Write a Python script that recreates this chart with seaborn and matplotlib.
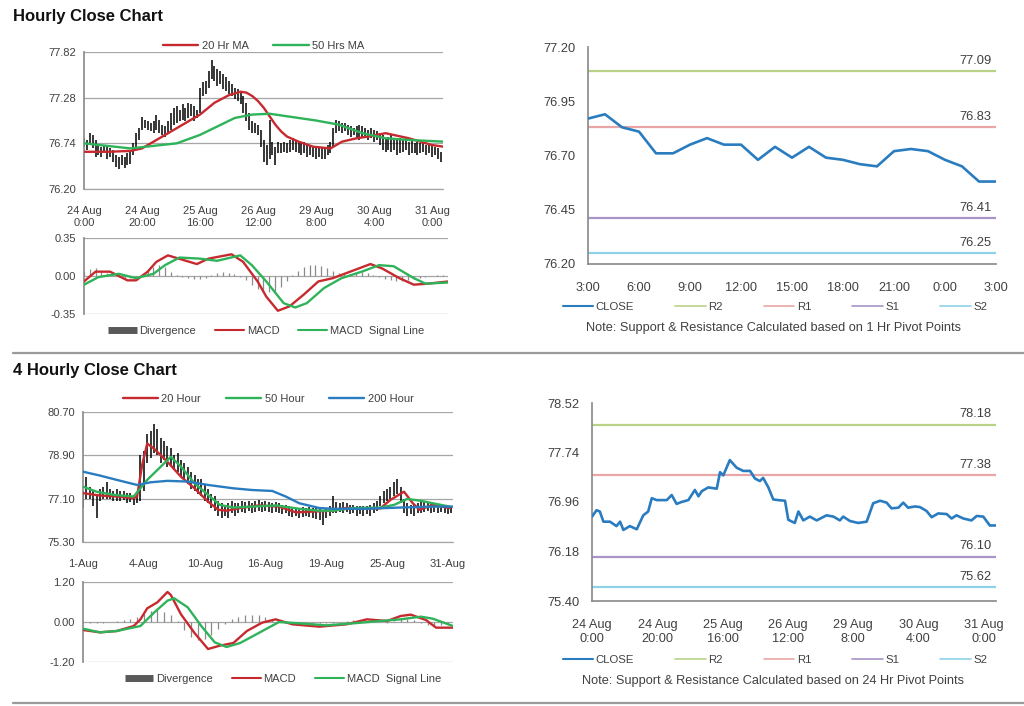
import numpy as np
import pandas as pd
import matplotlib
matplotlib.use("Agg")
import matplotlib.pyplot as plt
from matplotlib.lines import Line2D
import seaborn as sns

sns.set_theme(style="white")
plt.rcParams['font.family'] = ['Liberation Sans', 'DejaVu Sans']

RED = "#c62a2f"
GREEN = "#2fb35a"
BLUE = "#2a7cc0"
R2_COLOR = "#b9d386"
R1_COLOR = "#eaa6a6"
S1_COLOR = "#a894c8"
S2_COLOR = "#8ed2e8"
TXT = "#404040"
GRID = "#a6a6a6"
W, H = 1024, 706

# ---------------- Hourly close (top left) ----------------
H_TICKS = ["24 Aug\n0:00", "24 Aug\n20:00", "25 Aug\n16:00", "26 Aug\n12:00",
           "29 Aug\n8:00", "30 Aug\n4:00", "31 Aug\n0:00"]
H_BAR_X = list(range(125))
H_LOW = [76.70, 76.66, 76.72, 76.68, 76.58, 76.60, 76.58, 76.62, 76.56, 76.58,
         76.52, 76.46, 76.44, 76.48, 76.45, 76.48, 76.50, 76.60, 76.68, 76.78,
         76.90, 76.92, 76.90, 76.88, 76.86, 76.90, 76.86, 76.84, 76.82, 76.86,
         76.90, 76.96, 76.98, 77.00, 77.02, 77.00, 77.04, 77.06, 77.00, 77.04,
         77.10, 77.30, 77.32, 77.40, 77.50, 77.48, 77.42, 77.44, 77.38, 77.36,
         77.32, 77.30, 77.26, 77.24, 77.20, 77.10, 77.00, 76.90, 76.86, 76.86,
         76.84, 76.70, 76.52, 76.48, 76.56, 76.60, 76.48, 76.62, 76.62, 76.64,
         76.62, 76.64, 76.66, 76.64, 76.62, 76.60, 76.62, 76.58, 76.60, 76.58,
         76.56, 76.58, 76.55, 76.56, 76.60, 76.62, 76.70, 76.86, 76.88, 76.86,
         76.88, 76.84, 76.82, 76.84, 76.80, 76.78, 76.80, 76.80, 76.78, 76.80,
         76.76, 76.78, 76.72, 76.66, 76.64, 76.66, 76.64, 76.66, 76.60, 76.62,
         76.64, 76.66, 76.60, 76.62, 76.62, 76.60, 76.62, 76.64, 76.60, 76.62,
         76.58, 76.60, 76.56, 76.52, 76.48]
H_HIGH = [76.80, 76.78, 76.86, 76.84, 76.78, 76.72, 76.70, 76.72, 76.70, 76.68,
          76.66, 76.60, 76.58, 76.60, 76.58, 76.62, 76.66, 76.74, 76.86, 76.92,
          77.05, 77.02, 77.00, 76.98, 77.00, 77.08, 77.02, 76.96, 76.94, 77.00,
          77.10, 77.16, 77.18, 77.14, 77.20, 77.16, 77.22, 77.20, 77.18, 77.14,
          77.40, 77.46, 77.48, 77.60, 77.72, 77.66, 77.62, 77.60, 77.56, 77.52,
          77.48, 77.44, 77.40, 77.38, 77.36, 77.30, 77.22, 77.10, 77.00, 76.98,
          76.96, 76.90, 76.78, 76.72, 77.02, 76.76, 76.70, 76.76, 76.74, 76.76,
          76.74, 76.78, 76.80, 76.78, 76.76, 76.74, 76.76, 76.72, 76.72, 76.70,
          76.70, 76.68, 76.68, 76.70, 76.72, 76.76, 76.92, 77.02, 77.00, 76.98,
          76.98, 76.96, 76.94, 76.92, 76.94, 76.96, 76.95, 76.92, 76.90, 76.92,
          76.90, 76.88, 76.86, 76.84, 76.80, 76.82, 76.84, 76.80, 76.78, 76.80,
          76.78, 76.80, 76.76, 76.78, 76.74, 76.76, 76.74, 76.76, 76.72, 76.74,
          76.72, 76.70, 76.68, 76.64, 76.60]
MA20_X = [0, 8, 16, 20, 25, 30, 35, 40, 45, 50, 54, 56, 58, 60, 62, 64, 66, 68, 70, 74,
          79, 85, 89, 94, 98, 104, 112, 120, 124]
MA20 = [76.64, 76.64, 76.65, 76.68, 76.78, 76.88, 76.98, 77.08, 77.22, 77.31,
        77.35, 77.34, 77.30, 77.24, 77.16, 77.06, 76.96, 76.88, 76.82, 76.76,
        76.70, 76.68, 76.76, 76.80, 76.82, 76.86, 76.80, 76.72, 76.70]
MA50_X = [0, 8, 16, 24, 32, 40, 46, 52, 58, 64, 72, 80, 88, 96, 104, 112, 124]
MA50 = [76.74, 76.71, 76.68, 76.71, 76.74, 76.84, 76.94, 77.04, 77.08, 77.09,
        77.05, 77.01, 76.96, 76.86, 76.80, 76.78, 76.76]

MACD_H_X = [0, 4, 9, 15, 18, 22, 25, 29, 34, 39, 43, 51, 55, 60, 63, 67, 71, 76, 81, 86,
            92, 99, 103, 109, 114, 119, 126]
MACD_H = [-0.05, 0.04, 0.04, -0.04, -0.04, 0.04, 0.13, 0.19, 0.15, 0.11,
          0.16, 0.20, 0.13, -0.05, -0.19, -0.32, -0.28, -0.17, -0.05, -0.02,
          0.04, 0.11, 0.07, -0.02, -0.08, -0.07, -0.05]
SIG_H_X = [0, 5, 12, 18, 24, 28, 33, 40, 46, 54, 58, 63, 69, 73, 77, 83, 89, 96, 102, 107,
           114, 118, 126]
SIG_H = [-0.08, -0.01, 0.02, -0.02, 0.02, 0.10, 0.17, 0.16, 0.14, 0.19,
         0.10, -0.05, -0.25, -0.29, -0.25, -0.11, -0.02, 0.04, 0.10, 0.09,
         -0.02, -0.07, -0.06]
DIV_H_X = list(range(0, 127, 2))
DIV_H = [0.04, 0.06, 0.07, 0.05, 0.03, 0.01, -0.01, -0.02, -0.02, -0.01,
         0.02, 0.05, 0.08, 0.10, 0.08, 0.04, 0.01, -0.01, -0.02, -0.03,
         -0.03, -0.02, 0.01, 0.03, 0.04, 0.03, 0.02, -0.01, -0.04, -0.08,
         -0.12, -0.15, -0.15, -0.14, -0.10, -0.05, 0.01, 0.05, 0.08, 0.10,
         0.10, 0.09, 0.07, 0.05, 0.03, 0.02, 0.02, 0.03, 0.04, 0.03,
         0.01, -0.01, -0.03, -0.04, -0.05, -0.05, -0.04, -0.03, -0.02, -0.01,
         0.00, 0.01, 0.01, 0.00]

# ---------------- 1 hr pivots (top right) ----------------
HR_TICKS = ["3:00", "6:00", "9:00", "12:00", "15:00", "18:00", "21:00", "0:00", "3:00"]
HR_X = list(range(25))
HR_CLOSE = [76.87, 76.89, 76.83, 76.81, 76.71, 76.71, 76.75, 76.78, 76.75, 76.75,
            76.68, 76.74, 76.69, 76.74, 76.69, 76.68, 76.66, 76.65, 76.72, 76.73,
            76.72, 76.68, 76.65, 76.58, 76.58]
HR_LEVELS = {"R2": 77.09, "R1": 76.83, "S1": 76.41, "S2": 76.25}

# ---------------- 4 hourly close (bottom left) ----------------
B_TICKS = ["1-Aug", "4-Aug", "10-Aug", "16-Aug", "19-Aug", "25-Aug", "31-Aug"]
B_BAR_X = list(range(110))
B_LOW = [76.70, 77.10, 77.10, 76.80, 76.30, 77.00, 77.10, 77.10, 77.10, 77.00,
         77.00, 77.00, 77.05, 76.90, 76.95, 76.85, 76.90, 77.00, 77.40, 78.60,
         78.80, 79.00, 78.90, 78.60, 78.70, 78.40, 78.50, 78.30, 78.20, 78.00,
         77.90, 77.70, 77.50, 77.40, 77.30, 77.20, 77.00, 76.90, 76.70, 76.60,
         76.40, 76.30, 76.40, 76.30, 76.50, 76.40, 76.50, 76.55, 76.50, 76.60,
         76.50, 76.55, 76.60, 76.55, 76.60, 76.55, 76.50, 76.55, 76.50, 76.45,
         76.50, 76.40, 76.35, 76.40, 76.30, 76.35, 76.40, 76.35, 76.30, 76.25,
         76.20, 76.00, 76.30, 76.40, 76.50, 76.50, 76.55, 76.50, 76.55, 76.45,
         76.50, 76.40, 76.45, 76.40, 76.45, 76.40, 76.50, 76.60, 76.80, 76.90,
         77.00, 77.10, 77.20, 77.30, 76.90, 76.50, 76.40, 76.45, 76.40, 76.50,
         76.50, 76.55, 76.60, 76.50, 76.55, 76.50, 76.55, 76.50, 76.45, 76.50]
B_HIGH = [77.40, 78.00, 77.60, 77.40, 77.20, 77.50, 77.60, 77.80, 77.50, 77.40,
          77.50, 77.40, 77.40, 77.35, 77.35, 77.25, 77.30, 78.90, 79.10, 79.80,
          79.90, 80.20, 80.00, 79.60, 79.50, 79.30, 79.20, 78.90, 79.00, 78.70,
          78.60, 78.40, 78.20, 78.10, 77.90, 77.90, 77.70, 77.50, 77.30, 77.20,
          77.00, 76.90, 76.80, 76.90, 77.00, 76.90, 76.90, 77.00, 76.95, 77.00,
          76.90, 77.00, 77.05, 76.95, 77.00, 76.95, 76.90, 76.95, 76.90, 76.85,
          76.85, 76.80, 76.75, 76.70, 76.70, 76.75, 76.70, 76.75, 76.70, 76.70,
          76.65, 76.60, 76.70, 76.80, 77.20, 76.95, 76.90, 76.95, 76.90, 76.85,
          76.85, 76.80, 76.80, 76.80, 76.80, 76.85, 76.90, 77.00, 77.20, 77.40,
          77.50, 77.60, 77.80, 77.90, 77.60, 77.10, 76.90, 76.85, 76.85, 76.90,
          77.00, 76.95, 76.95, 76.90, 76.90, 76.85, 76.80, 76.80, 76.75, 76.75]
MA20B_X = [0, 5, 10, 15, 16, 17.5, 19, 21, 25, 29, 33, 37, 40, 42.5, 46.5, 52, 58, 63, 69, 74,
           78, 82, 88, 91, 95, 97.6, 99.6, 103.5, 108.5]
MA20B = [77.33, 77.23, 77.19, 77.12, 77.19, 78.50, 79.39, 79.18, 78.63, 78.01,
         77.53, 76.98, 76.64, 76.60, 76.71, 76.82, 76.77, 76.53, 76.57, 76.60,
         76.72, 76.68, 76.70, 77.05, 77.39, 76.91, 76.64, 76.84, 76.71]
MA50B_X = [0, 4, 9, 15, 19, 22, 26, 29, 33, 37, 40.5, 44.5, 50, 57, 64, 70, 74, 80, 88, 92,
           96, 100, 103.5, 108.5]
MA50B = [77.60, 77.39, 77.26, 77.19, 77.88, 78.29, 78.84, 78.43, 77.74, 77.26,
         76.84, 76.73, 76.77, 76.82, 76.68, 76.60, 76.60, 76.71, 76.73, 76.84,
         77.09, 77.01, 76.91, 76.77]
MA200B_X = [0, 5, 10, 16, 20, 25, 31, 37, 44.5, 50, 56, 60, 64, 70, 74, 84, 93.5, 103.5, 109.5]
MA200B = [78.22, 78.06, 77.88, 77.67, 77.78, 77.84, 77.81, 77.67, 77.53, 77.46,
          77.42, 77.19, 76.91, 76.71, 76.68, 76.68, 76.73, 76.77, 76.77]

MACD_B_X = [0, 5, 10, 15, 17, 19, 22, 25, 26, 29, 33, 37, 40.5, 44.5, 48.5, 53, 57, 62, 70, 78,
            84, 90, 94, 97, 101.5, 104.5, 109.5]
MACD_B = [-0.24, -0.31, -0.27, -0.12, 0.08, 0.41, 0.59, 0.90, 0.81, 0.23,
          -0.33, -0.81, -0.71, -0.63, -0.27, -0.02, 0.08, -0.07, -0.14, -0.07,
          0.08, 0.03, 0.18, 0.22, 0.06, -0.17, -0.17]
SIG_B_X = [0, 5, 10, 17, 21, 25, 27, 31, 35, 39, 42.5, 46.5, 52, 58, 64, 72, 80, 88, 94, 100,
           103.5, 109.5]
SIG_B = [-0.20, -0.31, -0.27, -0.12, 0.28, 0.64, 0.71, 0.44, -0.12, -0.61,
         -0.75, -0.63, -0.33, 0.00, -0.04, -0.10, -0.04, 0.03, 0.08, 0.16,
         0.10, -0.12]
DIV_B_X = list(range(0, 109, 2))
DIV_B = [-0.04, -0.04, -0.03, -0.02, 0.01, 0.03, 0.05, 0.08, 0.15, 0.25,
         0.33, 0.36, 0.30, 0.20, 0.02, -0.25, -0.45, -0.55, -0.50, -0.38,
         -0.22, -0.06, 0.08, 0.15, 0.20, 0.22, 0.20, 0.14, 0.08, 0.03,
         -0.02, -0.04, -0.05, -0.05, -0.04, -0.03, -0.03, -0.02, 0.01, 0.03,
         0.05, 0.05, 0.04, 0.02, 0.00, -0.02, 0.04, 0.08, 0.08, 0.05,
         -0.02, -0.08, -0.12, -0.08, -0.05]

# ---------------- 24 hr pivots (bottom right) ----------------
DR_X = [0, 1.4, 2.4, 3.5, 5.5, 7.5, 8.6, 9.6, 11.6, 13.7, 15.7, 17.2, 18.3, 19.8, 22.9, 24.4,
        25.9, 27.4, 29.5, 31.5, 32.6, 33.6, 35.6, 38.2, 39.2, 40.2, 42.2, 44.3, 46.3, 48.4,
        49.9, 51.4, 52.4, 54.0, 55.5, 57.0, 59.1, 60.1, 62.1, 63.2, 64.7, 66.7, 68.8, 71.8,
        73.9, 75.9, 76.9, 79.0, 81.5, 84.1, 86.1, 88.2, 90.2, 91.7, 93.8, 95.3, 96.8, 98.9,
        100.4, 102.4, 104.0, 106.0, 108.6, 110.1, 111.6, 113.7, 116.2, 117.8, 119.8, 121.8, 123.6]
DR_CLOSE = [76.73, 76.83, 76.81, 76.65, 76.65, 76.58, 76.65, 76.52, 76.58, 76.53,
            76.75, 76.81, 77.02, 76.99, 76.99, 77.07, 76.93, 76.96, 76.99, 77.15,
            77.05, 77.13, 77.19, 77.17, 77.43, 77.38, 77.62, 77.50, 77.45, 77.45,
            77.33, 77.29, 77.34, 77.19, 77.00, 76.99, 76.98, 76.68, 76.63, 76.81,
            76.67, 76.73, 76.67, 76.75, 76.73, 76.67, 76.73, 76.66, 76.63, 76.65,
            76.94, 76.98, 76.95, 76.86, 76.87, 76.95, 76.87, 76.89, 76.88, 76.82,
            76.72, 76.78, 76.77, 76.70, 76.75, 76.70, 76.67, 76.74, 76.73, 76.59,
            76.59]
DR_LEVELS = {"R2": 78.18, "R1": 77.38, "S1": 76.10, "S2": 75.62}

LEVEL_COLORS = {"R2": R2_COLOR, "R1": R1_COLOR, "S1": S1_COLOR, "S2": S2_COLOR}


def px_axes(fig, x0, y0, x1, y1):
    """Axes from pixel box (top-left origin)."""
    return fig.add_axes([x0 / W, 1 - y1 / H, (x1 - x0) / W, (y1 - y0) / H])


def style_left(ax, yticks, fs=8):
    ax.set_yticks(yticks)
    ax.set_yticklabels([f"{v:.2f}" for v in yticks], fontsize=fs, color=TXT)
    ax.set_ylim(yticks[-1], yticks[0])
    ax.yaxis.grid(True, color=GRID, lw=0.9)
    ax.xaxis.grid(False)
    ax.set_axisbelow(True)
    for s in ["top", "right", "bottom"]:
        ax.spines[s].set_visible(False)
    ax.spines["left"].set_color("#8c8c8c")
    ax.tick_params(axis="y", length=0, pad=6)
    ax.tick_params(axis="x", length=3, color="#8c8c8c", direction="out", pad=9)
    ax.set_xlabel("")
    ax.set_ylabel("")


def price_panel(ax, bar_x, lo, hi, mas, xmax, ticks, labels, yticks, leg_y):
    ax.vlines(bar_x, lo, hi, color="black", lw=1.1, zorder=2)
    for mx, my, color, name in mas:
        sns.lineplot(x=mx, y=my, ax=ax, color=color, lw=1.7, label=name, zorder=3)
    ax.set_xlim(0, xmax)
    ax.set_xticks(ticks)
    ax.set_xticklabels(labels, fontsize=8, color=TXT, linespacing=1.3)
    style_left(ax, yticks)
    ax.plot([0, xmax], [yticks[-1]] * 2, color=GRID, lw=0.9, zorder=1, clip_on=False)
    ax.legend(loc="lower center", bbox_to_anchor=(0.5, leg_y), ncol=len(mas), frameon=False,
              fontsize=8, handlelength=3.2, columnspacing=2.2, handletextpad=0.3,
              borderaxespad=0.1, labelcolor=TXT)


def macd_panel(ax, div_x, div, mx, macd, sx, sig, xmax, lim, legend_x):
    ax.vlines(div_x, 0, div, color="#8a8a8a", lw=0.9, zorder=2)
    sns.lineplot(x=mx, y=macd, ax=ax, color=RED, lw=1.7, zorder=3)
    sns.lineplot(x=sx, y=sig, ax=ax, color=GREEN, lw=1.7, zorder=3)
    ax.set_xlim(0, xmax)
    ax.set_xticks([])
    style_left(ax, [lim, 0.0, -lim])
    handles = [Line2D([], [], color="#595959", lw=5, solid_capstyle="butt"),
               Line2D([], [], color=RED, lw=1.5),
               Line2D([], [], color=GREEN, lw=1.5)]
    ax.legend(handles, ["Divergence", "MACD", "MACD  Signal Line"], loc="upper center",
              bbox_to_anchor=(legend_x, -0.02), ncol=3, frameon=False, fontsize=8,
              handlelength=2.6, columnspacing=1.7, handletextpad=0.25, labelcolor=TXT)


def pivot_panel(fig, ax, x, close, levels, xmax, ticks, labels, yticks, leg_y, note_y, note):
    for name, val in levels.items():
        ax.axhline(val, color=LEVEL_COLORS[name], lw=1.6, zorder=1)
        ax.annotate(f"{val:.2f}", (xmax, val), xytext=(-3, 3), textcoords="offset points",
                    ha="right", va="bottom", fontsize=9.3, color=TXT)
    sns.lineplot(x=x, y=close, ax=ax, color=BLUE, lw=1.9, zorder=3)
    ax.set_xlim(0, xmax)
    ax.set_ylim(yticks[-1], yticks[0])
    ax.set_xticks(ticks)
    ax.set_xticklabels(labels, fontsize=9.2, color=TXT, linespacing=1.2)
    ax.set_yticks(yticks)
    ax.set_yticklabels([f"{v:.2f}" for v in yticks], fontsize=9.3, color=TXT)
    ax.grid(False)
    for s in ["top", "right"]:
        ax.spines[s].set_visible(False)
    for s in ["left", "bottom"]:
        ax.spines[s].set_color("#8c8c8c")
    ax.tick_params(axis="y", length=3, color="#8c8c8c", direction="out", pad=6)
    ax.tick_params(axis="x", length=3, color="#8c8c8c", direction="out", pad=10)
    ax.set_xlabel("")
    ax.set_ylabel("")
    handles = [Line2D([], [], color=BLUE, lw=1.5)] + \
              [Line2D([], [], color=LEVEL_COLORS[n], lw=1.2) for n in levels]
    fig.legend(handles, ["CLOSE"] + list(levels), loc="center",
               bbox_to_anchor=(775 / W, 1 - leg_y / H), ncol=5, frameon=False, fontsize=8.2,
               handlelength=2.7, columnspacing=3.6, handletextpad=0.2, labelcolor=TXT)
    fig.text(773 / W, 1 - note_y / H, note, ha="center", va="center", fontsize=9.2, color=TXT)


fig = plt.figure(figsize=(W / 100, H / 100), dpi=100)
fig.patch.set_facecolor("white")

fig.text(13 / W, 1 - 16 / H, "Hourly Close Chart", fontsize=12, fontweight="bold",
         va="center", color="#111111")
fig.text(13 / W, 1 - 370 / H, "4 Hourly Close Chart", fontsize=12, fontweight="bold",
         va="center", color="#111111")
for yy in (353, 703):
    fig.add_artist(Line2D([13 / W, 1.0], [1 - yy / H] * 2, color="#9a9a9a", lw=1.6))

# top left
ax1 = px_axes(fig, 84, 52, 443, 189)
price_panel(ax1, H_BAR_X, H_LOW, H_HIGH,
            [(MA20_X, MA20, RED, "20 Hr MA"), (MA50_X, MA50, GREEN, "50 Hrs MA")],
            123.8, list(range(0, 121, 20)), H_TICKS, [77.82, 77.28, 76.74, 76.20], 0.97)

ax2 = px_axes(fig, 84, 238, 448, 314)
macd_panel(ax2, DIV_H_X, DIV_H, MACD_H_X, MACD_H, SIG_H_X, SIG_H, 125.8, 0.35, 0.5)

# top right
ax3 = px_axes(fig, 588, 47, 996, 264)
pivot_panel(fig, ax3, HR_X, HR_CLOSE, HR_LEVELS, 24, list(range(0, 25, 3)), HR_TICKS,
            [77.20, 76.95, 76.70, 76.45, 76.20], 307, 328,
            "Note: Support & Resistance Calculated based on 1 Hr Pivot Points")

# bottom left
ax4 = px_axes(fig, 83, 412, 453, 542)
price_panel(ax4, B_BAR_X, B_LOW, B_HIGH,
            [(MA20B_X, MA20B, RED, "20 Hour"), (MA50B_X, MA50B, GREEN, "50 Hour"),
             (MA200B_X, MA200B, BLUE, "200 Hour")],
            109.5, list(range(0, 109, 18)), B_TICKS, [80.70, 78.90, 77.10, 75.30], 1.02)

ax5 = px_axes(fig, 83, 582, 453, 662)
macd_panel(ax5, DIV_B_X, DIV_B, MACD_B_X, MACD_B, SIG_B_X, SIG_B, 109.5, 1.20, 0.54)

# bottom right
ax6 = px_axes(fig, 592, 403, 996, 601)
pivot_panel(fig, ax6, DR_X, DR_CLOSE, DR_LEVELS, 123.7, list(range(0, 121, 20)), H_TICKS,
            [78.52, 77.74, 76.96, 76.18, 75.40], 660, 681,
            "Note: Support & Resistance Calculated based on 24 Hr Pivot Points")

fig.savefig("out.png", dpi=100, facecolor="white")
